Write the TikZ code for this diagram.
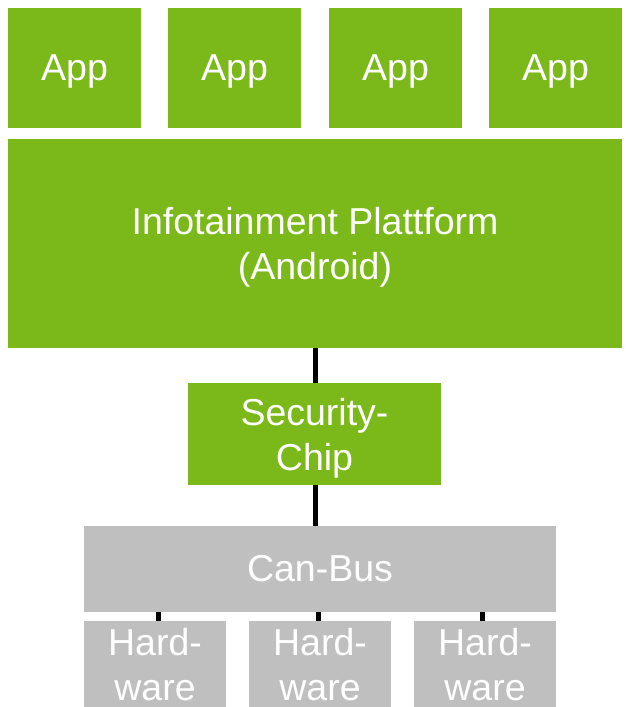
\documentclass[tikz,border=0pt]{standalone}
\usepackage{fontspec}
\setmainfont{Liberation Sans}
\definecolor{appgreen}{RGB}{122,185,25}
\definecolor{busgray}{RGB}{191,191,191}
\tikzset{
  box/.style={rectangle, inner sep=0pt, outer sep=0pt, text=white, align=center,
    text depth=0pt, font=\fontsize{37.5}{45}\selectfont},
  gbox/.style={box, fill=appgreen},
  hbox/.style={box, fill=busgray},
  wire/.style={line width=5pt, black}
}
\begin{document}
\begin{tikzpicture}[x=1pt,y=-1pt]
\useasboundingbox (0,0) rectangle (625,707);
\node[gbox, minimum width=133pt, minimum height=120pt] (app1) at (74.5,68) {App};
\node[gbox, minimum width=133pt, minimum height=120pt] (app2) at (234.5,68) {App};
\node[gbox, minimum width=133pt, minimum height=120pt] (app3) at (395.5,68) {App};
\node[gbox, minimum width=133pt, minimum height=120pt] (app4) at (555.5,68) {App};
\node[gbox, minimum width=614pt, minimum height=209pt] (plat) at (315,243.5) {Infotainment Plattform\\(Android)};
\node[gbox, minimum width=253pt, minimum height=102pt] (chip) at (314.5,434) {Security-\\Chip};
\node[hbox, minimum width=472pt, minimum height=86pt] (can) at (320,568.5) {Can-Bus};
\node[hbox, minimum width=142pt, minimum height=86pt] (hw1) at (155,664) {Hard-\\ware};
\node[hbox, minimum width=142pt, minimum height=86pt] (hw2) at (320,664) {Hard-\\ware};
\node[hbox, minimum width=142pt, minimum height=86pt] (hw3) at (485,664) {Hard-\\ware};
\draw[wire] (plat.south -| 315,0) -- (chip.north -| 315,0);
\draw[wire] (chip.south -| 315,0) -- (can.north -| 315,0);
\draw[wire] (can.south -| 158,0) -- (hw1.north -| 158,0);
\draw[wire] (can.south -| 318,0) -- (hw2.north -| 318,0);
\draw[wire] (can.south -| 482,0) -- (hw3.north -| 482,0);
\end{tikzpicture}
\end{document}
